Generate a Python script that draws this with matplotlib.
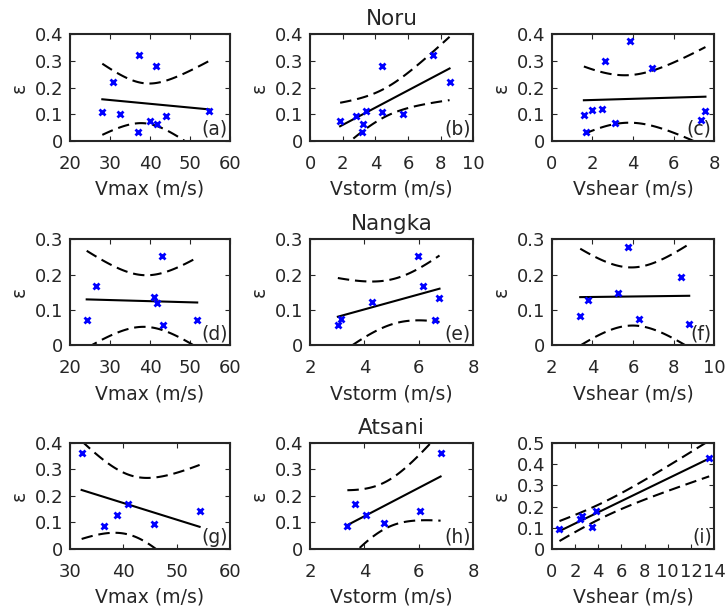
import numpy as np
import matplotlib
matplotlib.use('Agg')
from matplotlib import pyplot as plt
from matplotlib.ticker import FormatStrFormatter

# Noru
a_vmax = [28.1, 30.75, 32.5, 37.3, 37.0, 40.1, 41.4, 41.8, 44.0, 54.8]
a_eps = [0.108, 0.219, 0.101, 0.321, 0.032, 0.076, 0.280, 0.065, 0.093, 0.113]
b_vstorm = [1.84, 2.82, 3.27, 3.18, 3.41, 4.43, 4.39, 5.71, 7.51, 8.55]
b_eps = [0.076, 0.095, 0.064, 0.032, 0.113, 0.280, 0.107, 0.102, 0.321, 0.221]
c_vshear = [1.58, 1.70, 1.98, 2.45, 2.60, 3.11, 3.84, 4.92, 7.34, 7.57]
c_eps = [0.097, 0.034, 0.116, 0.120, 0.300, 0.066, 0.373, 0.275, 0.077, 0.113]

# Nangka
d_vmax = [24.2, 26.5, 41.1, 41.7, 42.9, 43.25, 51.8]
d_eps = [0.071, 0.167, 0.135, 0.120, 0.252, 0.058, 0.072]
e_vstorm = [3.02, 3.14, 4.27, 5.97, 6.14, 6.58, 6.76]
e_eps = [0.058, 0.074, 0.121, 0.253, 0.167, 0.071, 0.133]
f_vshear = [3.40, 3.78, 5.28, 5.75, 6.30, 8.37, 8.77]
f_eps = [0.084, 0.128, 0.148, 0.277, 0.074, 0.194, 0.060]

# Atsani
g_vmax = [32.2, 36.4, 38.9, 40.95, 45.8, 54.3]
g_eps = [0.362, 0.088, 0.127, 0.169, 0.096, 0.145]
h_vstorm = [3.37, 3.64, 4.07, 4.71, 6.05, 6.80]
h_eps = [0.088, 0.169, 0.129, 0.097, 0.145, 0.362]
i_vshear = [0.66, 2.39, 2.59, 3.46, 3.80, 13.57]
i_eps = [0.093, 0.140, 0.156, 0.103, 0.180, 0.431]

# two-sided 95% Student t by degrees of freedom
t95 = {4: 2.776, 5: 2.571, 8: 2.306}

panels = [
    (a_vmax, a_eps, 'Vmax (m/s)', (20, 60, 10), (0, 0.4), '(a)', None),
    (b_vstorm, b_eps, 'Vstorm (m/s)', (0, 10, 2), (0, 0.4), '(b)', 'Noru'),
    (c_vshear, c_eps, 'Vshear (m/s)', (0, 8, 2), (0, 0.4), '(c)', None),
    (d_vmax, d_eps, 'Vmax (m/s)', (20, 60, 10), (0, 0.3), '(d)', None),
    (e_vstorm, e_eps, 'Vstorm (m/s)', (2, 8, 2), (0, 0.3), '(e)', 'Nangka'),
    (f_vshear, f_eps, 'Vshear (m/s)', (2, 10, 2), (0, 0.3), '(f)', None),
    (g_vmax, g_eps, 'Vmax (m/s)', (30, 60, 10), (0, 0.4), '(g)', None),
    (h_vstorm, h_eps, 'Vstorm (m/s)', (2, 8, 2), (0, 0.4), '(h)', 'Atsani'),
    (i_vshear, i_eps, 'Vshear (m/s)', (0, 14, 2), (0, 0.5), '(i)', None),
]

col_left = [0.096, 0.426, 0.758]
col_w = [0.220, 0.224, 0.223]
row_bot = [0.769, 0.434, 0.100]
row_h = [0.175, 0.174, 0.174]

ink = '#262626'
plt.rcParams['font.family'] = ['DejaVu Sans']
plt.rcParams['text.color'] = ink
plt.rcParams['axes.labelcolor'] = ink
plt.rcParams['xtick.color'] = ink
plt.rcParams['ytick.color'] = ink

fig = plt.figure(figsize=(7.28, 6.10), dpi=100)


def fit_band(x, y):
    x = np.asarray(x, float)
    y = np.asarray(y, float)
    n = len(x)
    slope, icpt = np.polyfit(x, y, 1)
    resid = y - (slope * x + icpt)
    s = np.sqrt(np.sum(resid ** 2) / (n - 2))
    sxx = np.sum((x - x.mean()) ** 2)
    xs = np.linspace(x.min(), x.max(), 100)
    yf = slope * xs + icpt
    half = t95[n - 2] * s * np.sqrt(1.0 / n + (xs - x.mean()) ** 2 / sxx)
    return xs, yf, yf - half, yf + half


for k, (x, y, xlab, xt, ylim, tag, title) in enumerate(panels):
    r, c = divmod(k, 3)
    ax = fig.add_axes([col_left[c], row_bot[r], col_w[c], row_h[r]])
    xs, yf, lo, hi = fit_band(x, y)
    ax.plot(xs, yf, color='k', lw=1.5)
    ax.plot(xs, lo, color='k', lw=1.5, linestyle=(0, (5.5, 2.8)))
    ax.plot(xs, hi, color='k', lw=1.5, linestyle=(0, (5.5, 2.8)))
    ax.plot(x, y, 'x', color='#0000ff', ms=5, mew=2)

    ax.set_xlim(xt[0], xt[1])
    ax.set_xticks(np.arange(xt[0], xt[1] + 0.001, xt[2]))
    ax.set_ylim(*ylim)
    ax.set_yticks(np.arange(0, ylim[1] + 0.001, 0.1))
    ax.yaxis.set_major_formatter(FormatStrFormatter('%g'))
    ax.xaxis.set_major_formatter(FormatStrFormatter('%g'))
    ax.tick_params(direction='in', length=3.5, width=0.8, top=True, right=True,
                   labelsize=13)
    ax.tick_params(axis='x', pad=10)
    ax.tick_params(axis='y', pad=5)
    for sp in ax.spines.values():
        sp.set_linewidth(1.5)
        sp.set_color(ink)
    ax.set_xlabel(xlab, fontsize=13.5, labelpad=5)
    ax.set_ylabel('\u03b5', fontsize=13.5, labelpad=4)
    ax.text(0.985, 0.02, tag, transform=ax.transAxes, ha='right', va='bottom',
            fontsize=13.5)
    if title:
        ax.set_title(title, fontsize=15.5, pad=6.5)

fig.savefig('out.png', dpi=100)
